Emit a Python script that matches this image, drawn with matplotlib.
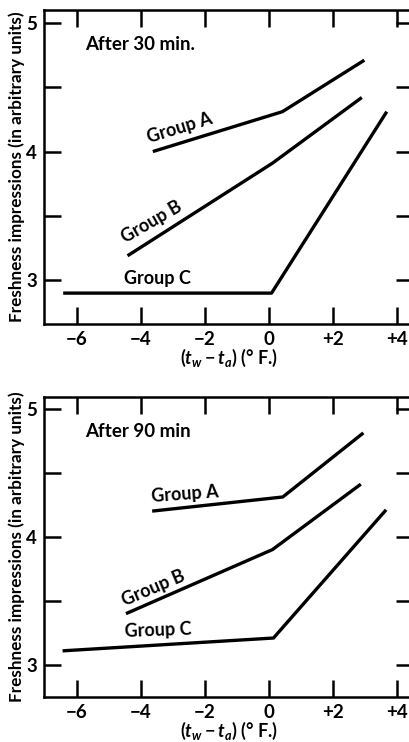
import matplotlib
matplotlib.use('Agg')
import matplotlib.pyplot as plt
from matplotlib.ticker import FixedLocator

plt.rcParams['font.family'] = ['Lato', 'DejaVu Sans']
plt.rcParams['mathtext.fontset'] = 'custom'
plt.rcParams['mathtext.rm'] = 'Lato:bold'
plt.rcParams['mathtext.it'] = 'Lato:italic:bold'
plt.rcParams['mathtext.bf'] = 'Lato:bold'

# 30 min panel
a30_x = [-3.63, 0.42, 2.98]
a30_y = [4.00, 4.31, 4.71]
b30_x = [-4.42, 0.11, 2.90]
b30_y = [3.19, 3.91, 4.42]
c30_x = [-6.43, 0.08, 3.68]
c30_y = [2.90, 2.90, 4.31]

# 90 min panel
a90_x = [-3.65, 0.43, 2.95]
a90_y = [4.20, 4.31, 4.81]
b90_x = [-4.47, 0.11, 2.87]
b90_y = [3.40, 3.90, 4.41]
c90_x = [-6.45, 0.14, 3.66]
c90_y = [3.11, 3.21, 4.21]

x_ticks = [-6, -4, -2, 0, 2, 4]
x_labels = ['\u22126', '\u22124', '\u22122', '0', '+2', '+4']
y_ticks = [3, 4, 5]

fig = plt.figure(figsize=(4.1, 7.42), dpi=100)
W, H = 410, 742


def make_ax(top_px, bot_px):
    left_px, right_px = 44, 413
    return fig.add_axes([left_px / W, 1 - bot_px / H,
                         (right_px - left_px) / W, (bot_px - top_px) / H])


panels = [
    (make_ax(10, 324), (2.66, 5.10), 'After 30 min.',
     [(a30_x, a30_y), (b30_x, b30_y), (c30_x, c30_y)],
     [('Group A', -2.78, 4.18, 17), ('Group B', -3.67, 3.45, 30),
      ('Group C', -3.5, 3.01, 0)]),
    (make_ax(397, 697), (2.75, 5.09), 'After 90 min',
     [(a90_x, a90_y), (b90_x, b90_y), (c90_x, c90_y)],
     [('Group A', -2.63, 4.33, 4), ('Group B', -3.6, 3.6, 23),
      ('Group C', -3.45, 3.27, 2)]),
]

for ax, ylim, title, series, labels in panels:
    for xs, ys in series:
        ax.plot(xs, ys, color='black', lw=2.4, solid_capstyle='butt')
    for txt, tx, ty, rot in labels:
        ax.text(tx, ty, txt, fontsize=13, fontweight='bold', rotation=rot,
                rotation_mode='anchor', ha='center', va='center')
    ax.text(-5.75, ylim[1] - 0.27, title, fontsize=13.5, fontweight='bold',
            ha='left', va='center')

    ax.set_xlim(-7.03, 4.5)
    ax.set_ylim(*ylim)
    ax.xaxis.set_major_locator(FixedLocator(x_ticks))
    ax.set_xticklabels(x_labels)
    ax.yaxis.set_major_locator(FixedLocator(y_ticks))
    ax.yaxis.set_minor_locator(FixedLocator([3.5, 4.5]))
    ax.tick_params(which='both', direction='in', top=True, right=True,
                   length=12, width=1.8, labelsize=13.5, pad=5)
    for lab in ax.get_xticklabels() + ax.get_yticklabels():
        lab.set_fontweight('bold')
    for s in ax.spines.values():
        s.set_linewidth(1.8)
    ax.set_ylabel('Freshness impressions (in arbitrary units)',
                  fontsize=12.3, fontweight='bold', labelpad=1)
    ax.set_xlabel(r'$(t_w - t_a)$ (° F.)', fontsize=13,
                  fontweight='bold', labelpad=-1)

fig.savefig('out.png', dpi=100)
